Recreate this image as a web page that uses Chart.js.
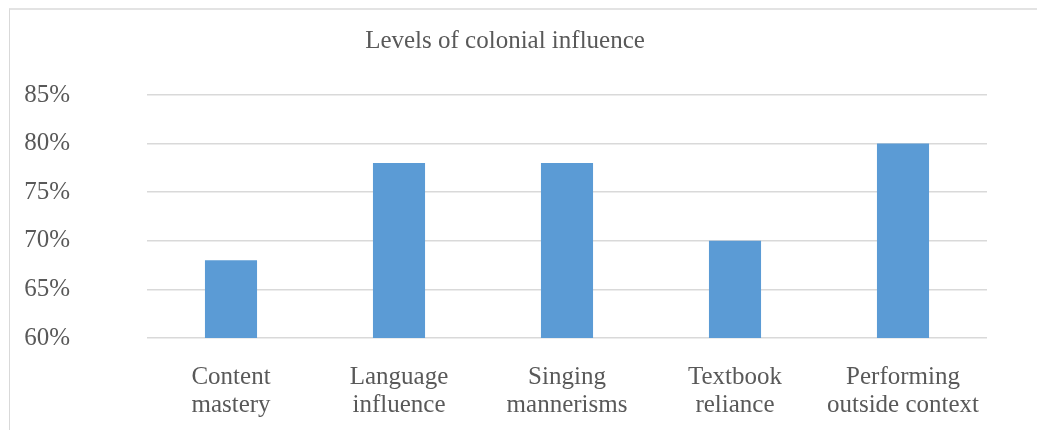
<!DOCTYPE html>
<html>
<head>
<meta charset="utf-8">
<script src="https://cdn.jsdelivr.net/npm/chart.js@4.4.1/dist/chart.umd.min.js"></script>
<style>
    html, body { margin: 0; padding: 0; background: #fff; overflow: hidden; }
    #divFrame {
        position: absolute; left: 9px; top: 8px; width: 1028px; height: 422px;
        border-left: 1px solid #D9D9D9; border-top: 2px solid #E3E3E3;
    }
    #divChart { position: absolute; left: 0; top: 0; width: 1037px; height: 430px; }
</style>
</head>
<body>
<div id="divFrame"></div>
<div id="divChart"><canvas id="cnvInfluence"></canvas></div>
<script>
/**
 * DATA
 */
const categories = [
    ['Content', 'mastery'],
    ['Language', 'influence'],
    ['Singing', 'mannerisms'],
    ['Textbook', 'reliance'],
    ['Performing', 'outside context']
];
const influenceValues = [68, 78, 78, 70, 80];
const yTicks = [60, 65, 70, 75, 80, 85];

const textColor = '#595959';
const serif = "'Liberation Serif', 'Times New Roman', serif";

/**
 * builds the bar chart
 */
function PaintChart() {
    let canvas = document.querySelector('#cnvInfluence');
    let myChart = new Chart(canvas, {
        type: 'bar',
        data: {
            labels: categories,
            datasets: [{
                label: 'Levels of colonial influence',
                data: influenceValues,
                backgroundColor: '#5B9BD5',
                borderWidth: 0,
                categoryPercentage: 0.31,
                barPercentage: 1
            }]
        },
        options: {
            responsive: true,
            maintainAspectRatio: false,
            animation: false,
            layout: { padding: { left: 23, right: 50, top: 26, bottom: 0 } },
            plugins: {
                legend: { display: false },
                tooltip: { enabled: false },
                title: {
                    display: true,
                    text: 'Levels of colonial influence',
                    color: textColor,
                    font: { family: serif, size: 25, weight: 'normal' },
                    padding: { top: 0, bottom: 39 }
                }
            },
            scales: {
                x: {
                    grid: { display: false },
                    border: { display: false },
                    // axis box must hold both label lines, or Chart.js clips them
                    afterFit: axis => { axis.height = 90; },
                    ticks: {
                        color: textColor,
                        font: { family: serif, size: 25, lineHeight: 1.12 },
                        padding: 17,
                        maxRotation: 0,
                        autoSkip: false
                    }
                },
                y: {
                    min: yTicks[0],
                    max: yTicks[yTicks.length - 1],
                    afterBuildTicks: axis => { axis.ticks = yTicks.map(v => ({ value: v })); },
                    afterFit: axis => { axis.width = 124; },
                    grid: { color: '#D9D9D9', lineWidth: 1.5, drawTicks: false },
                    border: { display: false },
                    ticks: {
                        color: textColor,
                        font: { family: serif, size: 25 },
                        padding: 77,
                        callback: v => v + '%'
                    }
                }
            }
        }
    });
}

PaintChart();
</script>
</body>
</html>
